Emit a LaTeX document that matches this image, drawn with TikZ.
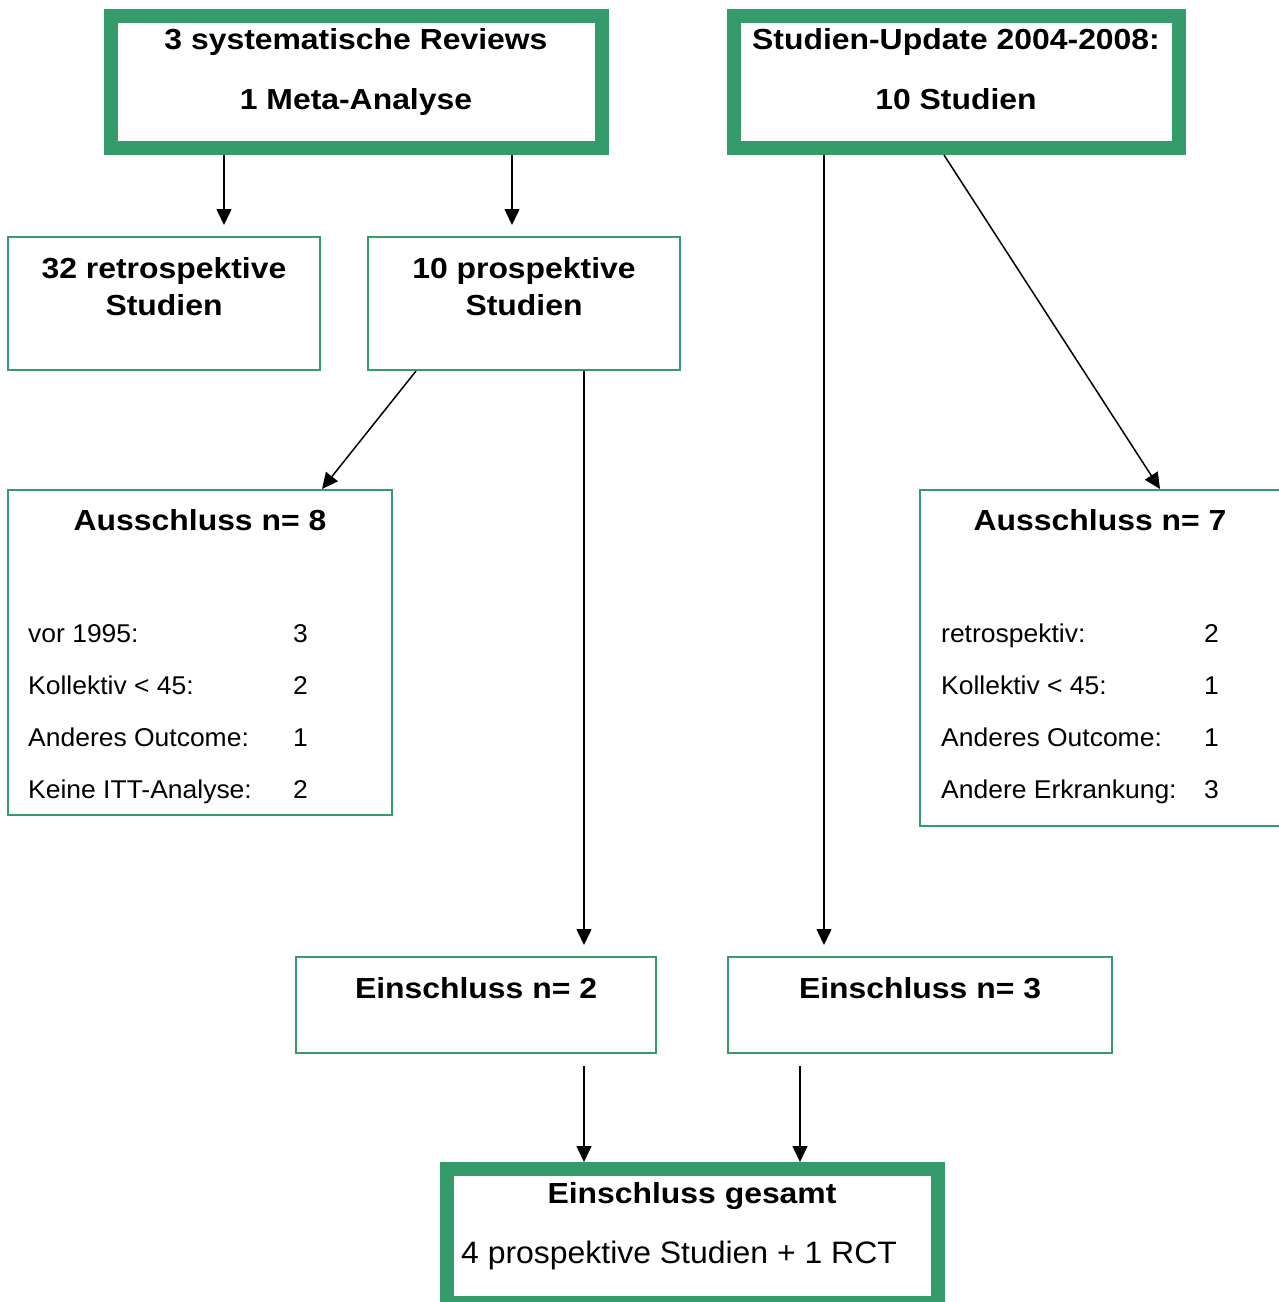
\documentclass[tikz,border=0pt]{standalone}
\usepackage{fontspec}
\setmainfont{Liberation Sans}
\newfontfamily\hdfont{Liberation Sans}[FakeStretch=1.10]
\newfontfamily\rgfont{Liberation Sans}[FakeStretch=1.03]
\usetikzlibrary{arrows.meta}
\definecolor{boxgreen}{RGB}{53,155,107}
\begin{document}
\begin{tikzpicture}[x=1pt,y=-1pt,
  thickbox/.style={draw=boxgreen, line width=14pt, fill=white, rectangle, inner sep=0pt, outer sep=7pt, anchor=north west},
  thinbox/.style={draw=boxgreen, line width=2pt, rectangle, inner sep=0pt, outer sep=1pt, anchor=north west},
  hd/.style={font=\hdfont\bfseries\fontsize{29}{33}\selectfont, inner sep=0pt, anchor=base},
  lst/.style={font=\rgfont\fontsize{25.7}{30}\selectfont, inner sep=0pt, anchor=base west},
  big/.style={font=\rgfont\fontsize{31}{36}\selectfont, inner sep=0pt, anchor=base west},
  arr/.style={line width=1.5pt, -{Triangle[width=15pt,length=16pt]}}]
\useasboundingbox[fill=white] (0,0) rectangle (1279,1302);
\clip (0,0) rectangle (1279,1302);

% boxes (placed by their outer corners)
\node[thickbox, minimum width=491pt, minimum height=132pt] (tl) at (104,9) {};
\node[thickbox, minimum width=445pt, minimum height=132pt] (su) at (727,9) {};
\node[thickbox, minimum width=491pt, minimum height=134pt] (eg) at (440,1162) {};
\node[thinbox, minimum width=312pt, minimum height=133pt] (r32) at (7,236) {};
\node[thinbox, minimum width=312pt, minimum height=133pt] (p10) at (367,236) {};
\node[thinbox, minimum width=384pt, minimum height=325pt] (x8) at (7,489) {};
\node[thinbox, minimum width=370pt, minimum height=336pt] (x7) at (919,489) {};
\node[thinbox, minimum width=360pt, minimum height=96pt] (e2) at (295,956) {};
\node[thinbox, minimum width=384pt, minimum height=96pt] (e3) at (727,956) {};

% texts
\node[hd] (tlA) at (356,49) {3 systematische Reviews};
\node[hd] (tlB) at (356,109) {1 Meta-Analyse};
\node[hd] (suA) at (956,49) {Studien-Update 2004-2008:};
\node[hd] (suB) at (956,109) {10 Studien};
\node[hd] (r32A) at (164,278) {32 retrospektive};
\node[hd] (r32B) at (164,315) {Studien};
\node[hd] (p10A) at (524,278) {10 prospektive};
\node[hd] (p10B) at (524,315) {Studien};
\node[hd] (x8T) at (200,530) {Ausschluss n= 8};
\node[hd] (x7T) at (1100,530) {Ausschluss n= 7};
\node[hd] (e2T) at (476,998) {Einschluss n= 2};
\node[hd] (e3T) at (920,998) {Einschluss n= 3};
\node[hd] (egT) at (692,1203) {Einschluss gesamt};
\node[big] (egB) at (461,1263) {4 prospektive Studien + 1 RCT};

\node[lst] (l1) at (28,642) {vor 1995:};
\node[lst] (l2) at (28,694) {Kollektiv < 45:};
\node[lst] (l3) at (28,746) {Anderes Outcome:};
\node[lst] (l4) at (28,798) {Keine ITT-Analyse:};
\node[lst] (n1) at (293,642) {3};
\node[lst] (n2) at (293,694) {2};
\node[lst] (n3) at (293,746) {1};
\node[lst] (n4) at (293,798) {2};

\node[lst] (m1) at (941,642) {retrospektiv:};
\node[lst] (m2) at (941,694) {Kollektiv < 45:};
\node[lst] (m3) at (941,746) {Anderes Outcome:};
\node[lst] (m4) at (941,798) {Andere Erkrankung:};
\node[lst] (k1) at (1204,642) {2};
\node[lst] (k2) at (1204,694) {1};
\node[lst] (k3) at (1204,746) {1};
\node[lst] (k4) at (1204,798) {3};

% connectors
\draw[arr, shorten >=11pt] (224,0 |- tl.south) -- (224,0 |- r32.north);
\draw[arr, shorten >=11pt] (512,0 |- tl.south) -- (512,0 |- p10.north);
\draw[arr] (416,0 |- p10.south) -- (322,0 |- x8.north);
\draw[arr, shorten >=11pt] (584,0 |- p10.south) -- (584,0 |- e2.north);
\draw[arr, shorten >=11pt] (824,0 |- su.south) -- (824,0 |- e3.north);
\draw[arr] (944,0 |- su.south) -- (1160,0 |- x7.north);
\draw[arr, shorten <=12pt] (584,0 |- e2.south) -- (584,0 |- eg.north);
\draw[arr, shorten <=12pt] (800,0 |- e3.south) -- (800,0 |- eg.north);
\end{tikzpicture}
\end{document}
